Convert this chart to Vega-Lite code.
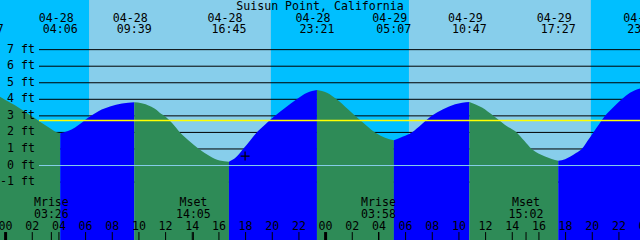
{
  "$schema": "https://vega.github.io/schema/vega-lite/v6.json",
  "width": 640,
  "height": 240,
  "autosize": {"type": "none"},
  "padding": 0,
  "background": "#00BFFF",
  "config": {
    "view": {"stroke": null},
    "text": {"font": "DejaVu Sans Mono", "fontSize": 11.6, "color": "black"}
  },
  "datasets": {
    "bands": [
      {"start": -0.42, "end": 6.26, "kind": "night"},
      {"start": 6.26, "end": 19.9, "kind": "day"},
      {"start": 19.9, "end": 30.25, "kind": "night"},
      {"start": 30.25, "end": 43.9, "kind": "day"},
      {"start": 43.9, "end": 47.58, "kind": "night"}
    ],
    "levels": [
      {"ft": -1, "label": "-1 ft"},
      {"ft": 0, "label": "0 ft"},
      {"ft": 1, "label": "1 ft"},
      {"ft": 2, "label": "2 ft"},
      {"ft": 3, "label": "3 ft"},
      {"ft": 4, "label": "4 ft"},
      {"ft": 5, "label": "5 ft"},
      {"ft": 6, "label": "6 ft"},
      {"ft": 7, "label": "7 ft"}
    ],
    "tide": [
      {"seg": 0, "dir": "fall", "t": -0.42, "h": 4.16},
      {"seg": 0, "dir": "fall", "t": 0.33, "h": 3.8},
      {"seg": 0, "dir": "fall", "t": 1.08, "h": 3.45},
      {"seg": 0, "dir": "fall", "t": 1.83, "h": 3.05},
      {"seg": 0, "dir": "fall", "t": 2.58, "h": 2.65},
      {"seg": 0, "dir": "fall", "t": 3.33, "h": 2.25},
      {"seg": 0, "dir": "fall", "t": 3.78, "h": 2.03},
      {"seg": 0, "dir": "fall", "t": 4.1, "h": 1.95},
      {"seg": 1, "dir": "rise", "t": 4.1, "h": 1.95},
      {"seg": 1, "dir": "rise", "t": 4.68, "h": 2.08},
      {"seg": 1, "dir": "rise", "t": 5.21, "h": 2.3},
      {"seg": 1, "dir": "rise", "t": 5.73, "h": 2.6},
      {"seg": 1, "dir": "rise", "t": 6.18, "h": 2.88},
      {"seg": 1, "dir": "rise", "t": 7.0, "h": 3.3},
      {"seg": 1, "dir": "rise", "t": 7.83, "h": 3.56},
      {"seg": 1, "dir": "rise", "t": 8.73, "h": 3.75},
      {"seg": 1, "dir": "rise", "t": 9.65, "h": 3.82},
      {"seg": 2, "dir": "fall", "t": 9.65, "h": 3.82},
      {"seg": 2, "dir": "fall", "t": 10.2, "h": 3.76},
      {"seg": 2, "dir": "fall", "t": 10.8, "h": 3.6},
      {"seg": 2, "dir": "fall", "t": 11.33, "h": 3.35},
      {"seg": 2, "dir": "fall", "t": 11.58, "h": 3.17},
      {"seg": 2, "dir": "fall", "t": 12.0, "h": 2.95},
      {"seg": 2, "dir": "fall", "t": 12.5, "h": 2.55},
      {"seg": 2, "dir": "fall", "t": 13.08, "h": 2.0},
      {"seg": 2, "dir": "fall", "t": 13.75, "h": 1.5},
      {"seg": 2, "dir": "fall", "t": 14.5, "h": 1.0},
      {"seg": 2, "dir": "fall", "t": 15.3, "h": 0.58},
      {"seg": 2, "dir": "fall", "t": 16.05, "h": 0.3},
      {"seg": 2, "dir": "fall", "t": 16.75, "h": 0.23},
      {"seg": 3, "dir": "rise", "t": 16.75, "h": 0.23},
      {"seg": 3, "dir": "rise", "t": 17.28, "h": 0.5},
      {"seg": 3, "dir": "rise", "t": 17.81, "h": 1.0},
      {"seg": 3, "dir": "rise", "t": 18.33, "h": 1.5},
      {"seg": 3, "dir": "rise", "t": 18.83, "h": 2.0},
      {"seg": 3, "dir": "rise", "t": 19.49, "h": 2.5},
      {"seg": 3, "dir": "rise", "t": 20.21, "h": 3.0},
      {"seg": 3, "dir": "rise", "t": 21.0, "h": 3.5},
      {"seg": 3, "dir": "rise", "t": 21.83, "h": 4.0},
      {"seg": 3, "dir": "rise", "t": 22.61, "h": 4.4},
      {"seg": 3, "dir": "rise", "t": 23.35, "h": 4.56},
      {"seg": 4, "dir": "fall", "t": 23.35, "h": 4.56},
      {"seg": 4, "dir": "fall", "t": 24.1, "h": 4.4},
      {"seg": 4, "dir": "fall", "t": 24.83, "h": 4.0},
      {"seg": 4, "dir": "fall", "t": 25.68, "h": 3.4},
      {"seg": 4, "dir": "fall", "t": 26.58, "h": 2.75},
      {"seg": 4, "dir": "fall", "t": 27.71, "h": 2.0},
      {"seg": 4, "dir": "fall", "t": 28.46, "h": 1.68},
      {"seg": 4, "dir": "fall", "t": 29.12, "h": 1.52},
      {"seg": 5, "dir": "rise", "t": 29.12, "h": 1.52},
      {"seg": 5, "dir": "rise", "t": 29.81, "h": 1.75},
      {"seg": 5, "dir": "rise", "t": 30.46, "h": 2.0},
      {"seg": 5, "dir": "rise", "t": 31.21, "h": 2.5},
      {"seg": 5, "dir": "rise", "t": 31.96, "h": 3.0},
      {"seg": 5, "dir": "rise", "t": 32.81, "h": 3.4},
      {"seg": 5, "dir": "rise", "t": 33.71, "h": 3.7},
      {"seg": 5, "dir": "rise", "t": 34.78, "h": 3.84},
      {"seg": 6, "dir": "fall", "t": 34.78, "h": 3.84},
      {"seg": 6, "dir": "fall", "t": 35.73, "h": 3.5},
      {"seg": 6, "dir": "fall", "t": 36.58, "h": 3.0},
      {"seg": 6, "dir": "fall", "t": 37.46, "h": 2.45},
      {"seg": 6, "dir": "fall", "t": 38.33, "h": 2.0},
      {"seg": 6, "dir": "fall", "t": 38.9, "h": 1.5},
      {"seg": 6, "dir": "fall", "t": 39.46, "h": 1.0},
      {"seg": 6, "dir": "fall", "t": 40.46, "h": 0.55},
      {"seg": 6, "dir": "fall", "t": 41.45, "h": 0.29},
      {"seg": 7, "dir": "rise", "t": 41.45, "h": 0.29},
      {"seg": 7, "dir": "rise", "t": 41.96, "h": 0.38},
      {"seg": 7, "dir": "rise", "t": 42.33, "h": 0.53},
      {"seg": 7, "dir": "rise", "t": 42.78, "h": 0.75},
      {"seg": 7, "dir": "rise", "t": 43.21, "h": 1.0},
      {"seg": 7, "dir": "rise", "t": 43.65, "h": 1.5},
      {"seg": 7, "dir": "rise", "t": 44.08, "h": 2.0},
      {"seg": 7, "dir": "rise", "t": 44.51, "h": 2.5},
      {"seg": 7, "dir": "rise", "t": 44.96, "h": 3.0},
      {"seg": 7, "dir": "rise", "t": 45.56, "h": 3.5},
      {"seg": 7, "dir": "rise", "t": 46.21, "h": 4.0},
      {"seg": 7, "dir": "rise", "t": 46.83, "h": 4.4},
      {"seg": 7, "dir": "rise", "t": 47.58, "h": 4.66}
    ],
    "events": [
      {"t": -1.45, "date": "04-27", "time": "22:37"},
      {"t": 4.1, "date": "04-28", "time": "04:06"},
      {"t": 9.65, "date": "04-28", "time": "09:39"},
      {"t": 16.75, "date": "04-28", "time": "16:45"},
      {"t": 23.35, "date": "04-28", "time": "23:21"},
      {"t": 29.117, "date": "04-29", "time": "05:07"},
      {"t": 34.783, "date": "04-29", "time": "10:47"},
      {"t": 41.45, "date": "04-29", "time": "17:27"},
      {"t": 47.93, "date": "04-29", "time": "23:56"}
    ],
    "moon": [
      {"t": 3.433, "kind": "Mrise", "time": "03:26"},
      {"t": 14.083, "kind": "Mset", "time": "14:05"},
      {"t": 27.967, "kind": "Mrise", "time": "03:58"},
      {"t": 39.033, "kind": "Mset", "time": "15:02"}
    ],
    "hours": [
      {"t": 0, "label": "00"}, {"t": 2, "label": "02"}, {"t": 4, "label": "04"},
      {"t": 6, "label": "06"}, {"t": 8, "label": "08"}, {"t": 10, "label": "10"},
      {"t": 12, "label": "12"}, {"t": 14, "label": "14"}, {"t": 16, "label": "16"},
      {"t": 18, "label": "18"}, {"t": 20, "label": "20"}, {"t": 22, "label": "22"},
      {"t": 24, "label": "00"}, {"t": 26, "label": "02"}, {"t": 28, "label": "04"},
      {"t": 30, "label": "06"}, {"t": 32, "label": "08"}, {"t": 34, "label": "10"},
      {"t": 36, "label": "12"}, {"t": 38, "label": "14"}, {"t": 40, "label": "16"},
      {"t": 42, "label": "18"}, {"t": 44, "label": "20"}, {"t": 46, "label": "22"},
      {"t": 48, "label": "00"}
    ]
  },
  "layer": [
    {
      "data": {"name": "bands"},
      "mark": {"type": "rect"},
      "encoding": {
        "x": {"field": "start", "type": "quantitative", "scale": {"domain": [-0.42, 47.58], "nice": false, "zero": false}, "axis": null},
        "x2": {"field": "end"},
        "y": {"datum": 10, "type": "quantitative", "scale": {"domain": [-4.5, 10], "nice": false, "zero": false}, "axis": null},
        "y2": {"datum": -4.5},
        "color": {"field": "kind", "type": "nominal", "scale": {"domain": ["day", "night", "rise", "fall"], "range": ["#87CEEB", "#00BFFF", "#0000FF", "#2E8B57"]}, "legend": null}
      }
    },
    {
      "data": {"name": "levels"},
      "mark": {"type": "rule", "color": "black", "strokeWidth": 1},
      "encoding": {
        "x": {"datum": 2.505, "type": "quantitative", "scale": {"domain": [-0.42, 47.58], "nice": false, "zero": false}, "axis": null},
        "x2": {"datum": 47.58},
        "y": {"field": "ft", "type": "quantitative", "scale": {"domain": [-4.5, 10], "nice": false, "zero": false}, "axis": null}
      }
    },
    {
      "data": {"name": "tide"},
      "mark": {"type": "area", "interpolate": "monotone"},
      "encoding": {
        "x": {"field": "t", "type": "quantitative", "scale": {"domain": [-0.42, 47.58], "nice": false, "zero": false}, "axis": null},
        "y": {"field": "h", "type": "quantitative", "scale": {"domain": [-4.5, 10], "nice": false, "zero": false}, "axis": null},
        "y2": {"datum": -4.5},
        "color": {"field": "dir", "type": "nominal", "scale": {"domain": ["day", "night", "rise", "fall"], "range": ["#87CEEB", "#00BFFF", "#0000FF", "#2E8B57"]}, "legend": null},
        "detail": {"field": "seg", "type": "nominal"}
      }
    },
    {
      "data": {"values": [{"level": 0}]},
      "mark": {"type": "rule", "color": "#87CEEB", "strokeWidth": 1},
      "encoding": {
        "x": {"datum": 2.505, "type": "quantitative", "scale": {"domain": [-0.42, 47.58], "nice": false, "zero": false}, "axis": null},
        "x2": {"datum": 47.58},
        "y": {"field": "level", "type": "quantitative", "scale": {"domain": [-4.5, 10], "nice": false, "zero": false}, "axis": null}
      }
    },
    {
      "data": {"values": [{"level": 2.72}]},
      "mark": {"type": "rule", "color": "#FFFF00", "strokeWidth": 1.3},
      "encoding": {
        "x": {"datum": 2.505, "type": "quantitative", "scale": {"domain": [-0.42, 47.58], "nice": false, "zero": false}, "axis": null},
        "x2": {"datum": 47.58},
        "y": {"field": "level", "type": "quantitative", "scale": {"domain": [-4.5, 10], "nice": false, "zero": false}, "axis": null}
      }
    },
    {
      "data": {"values": [{"t": 17.96, "h": 0.57}]},
      "mark": {"type": "point", "shape": "M-1,0H1M0,-1V1", "filled": false, "stroke": "black", "strokeWidth": 1.2, "size": 81, "opacity": 1},
      "encoding": {
        "x": {"field": "t", "type": "quantitative", "scale": {"domain": [-0.42, 47.58], "nice": false, "zero": false}, "axis": null},
        "y": {"field": "h", "type": "quantitative", "scale": {"domain": [-4.5, 10], "nice": false, "zero": false}, "axis": null}
      }
    },
    {
      "data": {"values": [{"name": "Suisun Point, California"}]},
      "mark": {"type": "text", "align": "center", "baseline": "alphabetic"},
      "encoding": {
        "x": {"datum": 23.58, "type": "quantitative", "scale": {"domain": [-0.42, 47.58], "nice": false, "zero": false}, "axis": null},
        "y": {"datum": 9.4, "type": "quantitative", "scale": {"domain": [-4.5, 10], "nice": false, "zero": false}, "axis": null},
        "text": {"field": "name"}
      }
    },
    {
      "data": {"name": "events"},
      "mark": {"type": "text", "align": "center", "baseline": "alphabetic", "dx": -4},
      "encoding": {
        "x": {"field": "t", "type": "quantitative", "scale": {"domain": [-0.42, 47.58], "nice": false, "zero": false}, "axis": null},
        "y": {"datum": 8.67, "type": "quantitative", "scale": {"domain": [-4.5, 10], "nice": false, "zero": false}, "axis": null},
        "text": {"field": "date"}
      }
    },
    {
      "data": {"name": "events"},
      "mark": {"type": "text", "align": "center", "baseline": "alphabetic"},
      "encoding": {
        "x": {"field": "t", "type": "quantitative", "scale": {"domain": [-0.42, 47.58], "nice": false, "zero": false}, "axis": null},
        "y": {"datum": 8.01, "type": "quantitative", "scale": {"domain": [-4.5, 10], "nice": false, "zero": false}, "axis": null},
        "text": {"field": "time"}
      }
    },
    {
      "data": {"name": "levels"},
      "mark": {"type": "text", "align": "right", "baseline": "middle"},
      "encoding": {
        "x": {"datum": 2.2, "type": "quantitative", "scale": {"domain": [-0.42, 47.58], "nice": false, "zero": false}, "axis": null},
        "y": {"field": "ft", "type": "quantitative", "scale": {"domain": [-4.5, 10], "nice": false, "zero": false}, "axis": null},
        "text": {"field": "label"}
      }
    },
    {
      "data": {"name": "moon"},
      "mark": {"type": "text", "align": "center", "baseline": "alphabetic"},
      "encoding": {
        "x": {"field": "t", "type": "quantitative", "scale": {"domain": [-0.42, 47.58], "nice": false, "zero": false}, "axis": null},
        "y": {"datum": -2.45, "type": "quantitative", "scale": {"domain": [-4.5, 10], "nice": false, "zero": false}, "axis": null},
        "text": {"field": "kind"}
      }
    },
    {
      "data": {"name": "moon"},
      "mark": {"type": "text", "align": "center", "baseline": "alphabetic"},
      "encoding": {
        "x": {"field": "t", "type": "quantitative", "scale": {"domain": [-0.42, 47.58], "nice": false, "zero": false}, "axis": null},
        "y": {"datum": -3.17, "type": "quantitative", "scale": {"domain": [-4.5, 10], "nice": false, "zero": false}, "axis": null},
        "text": {"field": "time"}
      }
    },
    {
      "data": {"name": "hours"},
      "mark": {"type": "text", "align": "center", "baseline": "alphabetic"},
      "encoding": {
        "x": {"field": "t", "type": "quantitative", "scale": {"domain": [-0.42, 47.58], "nice": false, "zero": false}, "axis": null},
        "y": {"datum": -3.9, "type": "quantitative", "scale": {"domain": [-4.5, 10], "nice": false, "zero": false}, "axis": null},
        "text": {"field": "label"}
      }
    },
    {
      "data": {"name": "hours"},
      "mark": {"type": "rule", "color": "black", "strokeWidth": 1},
      "encoding": {
        "x": {"field": "t", "type": "quantitative", "scale": {"domain": [-0.42, 47.58], "nice": false, "zero": false}, "axis": null},
        "y": {"datum": -4.02, "type": "quantitative", "scale": {"domain": [-4.5, 10], "nice": false, "zero": false}, "axis": null},
        "y2": {"datum": -4.5}
      }
    },
    {
      "data": {"name": "hours"},
      "transform": [{"filter": "datum.t % 24 == 0"}],
      "mark": {"type": "rule", "color": "black", "strokeWidth": 3},
      "encoding": {
        "x": {"field": "t", "type": "quantitative", "scale": {"domain": [-0.42, 47.58], "nice": false, "zero": false}, "axis": null},
        "y": {"datum": -4.02, "type": "quantitative", "scale": {"domain": [-4.5, 10], "nice": false, "zero": false}, "axis": null},
        "y2": {"datum": -4.5}
      }
    },
    {
      "data": {"name": "moon"},
      "mark": {"type": "rule", "color": "black", "strokeWidth": 1},
      "encoding": {
        "x": {"field": "t", "type": "quantitative", "scale": {"domain": [-0.42, 47.58], "nice": false, "zero": false}, "axis": null},
        "y": {"datum": -4.02, "type": "quantitative", "scale": {"domain": [-4.5, 10], "nice": false, "zero": false}, "axis": null},
        "y2": {"datum": -4.5}
      }
    }
  ]
}
